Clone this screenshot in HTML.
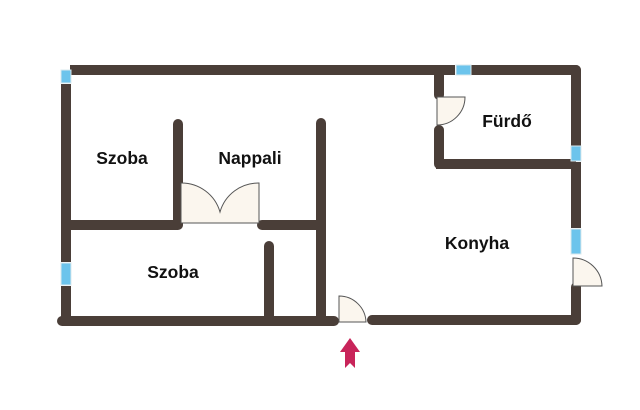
<!DOCTYPE html>
<html><head><meta charset="utf-8"><style>
html,body{margin:0;padding:0;background:#fff;width:640px;height:410px;overflow:hidden}
svg{display:block}
text{font-family:"Liberation Sans",Arial,sans-serif;font-weight:bold;font-size:17.5px;fill:#111}
</style></head><body>
<svg width="640" height="410" viewBox="0 0 640 410">
<g stroke="#4a3e38" stroke-width="10" stroke-linecap="round" fill="none">
 <line x1="70" y1="70" x2="455" y2="70" stroke-linecap="butt"/>
 <line x1="472" y1="70" x2="576" y2="70"/>
 <line x1="66" y1="84" x2="66" y2="262" stroke-linecap="butt"/>
 <line x1="66" y1="286" x2="66" y2="321" stroke-linecap="butt"/>
 <line x1="62" y1="321" x2="334" y2="321"/>
 <line x1="372" y1="320" x2="576" y2="320"/>
 <line x1="576" y1="70" x2="576" y2="145"/>
 <line x1="576" y1="162" x2="576" y2="228" stroke-linecap="butt"/>
 <line x1="576" y1="287" x2="576" y2="320"/>
 <line x1="439" y1="70" x2="439" y2="95"/>
 <line x1="439" y1="130" x2="439" y2="164"/>
 <line x1="436" y1="164" x2="576" y2="164" stroke-linecap="butt"/>
 <line x1="178" y1="124" x2="178" y2="224"/>
 <line x1="66" y1="225" x2="178" y2="225"/>
 <line x1="262" y1="225" x2="320" y2="225"/>
 <line x1="321" y1="123" x2="321" y2="321"/>
 <line x1="269" y1="246" x2="269" y2="321"/>
</g>
<g fill="#6cc4ec" stroke="#d8e8ee" stroke-width="1">
 <rect x="61" y="70" width="10" height="13"/>
 <rect x="61" y="263" width="10" height="22"/>
 <rect x="456" y="65" width="15" height="10"/>
 <rect x="571" y="146" width="10" height="15"/>
 <rect x="571" y="229" width="10" height="25"/>
</g>
<g fill="#fbf6ee" stroke="#555" stroke-width="1">
 <path d="M181 223 L181 183 A40 40 0 0 1 220 212 A40 40 0 0 1 259 183 L259 223 Z"/>
 <path d="M339 322 L339 296 A27 27 0 0 1 366 322 Z"/>
 <path d="M437 97 L437 125 A28 28 0 0 0 465 97 Z"/>
 <path d="M573 286 L573 258 A29 29 0 0 1 602 286 Z"/>
</g>
<path d="M350 338 L360 352 L355 352 L355 368 L350 363 L345 368 L345 352 L340 352 Z" fill="#c8245a"/>
<text x="122" y="164" text-anchor="middle">Szoba</text>
<text x="250" y="164" text-anchor="middle">Nappali</text>
<text x="173" y="278" text-anchor="middle">Szoba</text>
<text x="507" y="127" text-anchor="middle">Fürdő</text>
<text x="477" y="249" text-anchor="middle">Konyha</text>
</svg>
</body></html>
